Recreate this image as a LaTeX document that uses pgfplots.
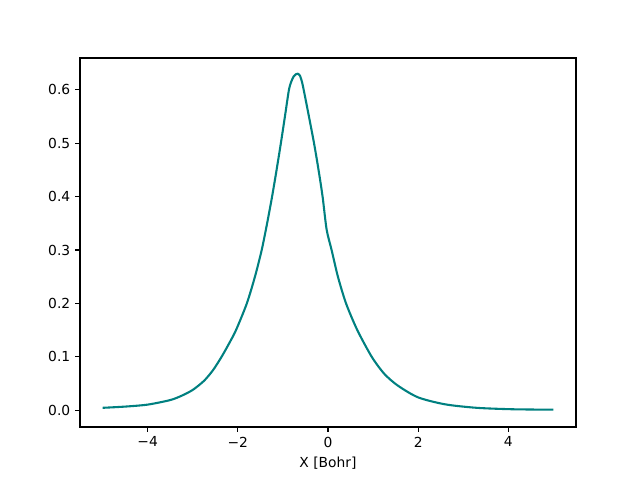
\documentclass[border=0pt]{standalone}
\usepackage{fontspec}
\setmainfont{DejaVu Sans}
\usepackage{pgfplots}
\pgfplotsset{compat=1.18}

\definecolor{mpteal}{RGB}{0,128,128}

\begin{document}
\begin{tikzpicture}
\useasboundingbox (-0.8in,-0.53in) rectangle (5.6in,4.27in);
\begin{axis}[
    at={(0,0)}, anchor=south west,
    scale only axis,
    width=4.96in, height=3.69in,
    xmin=-5.5, xmax=5.5,
    ymin=-0.0314, ymax=0.6594,
    xtick={-4,-2,0,2,4},
    xticklabels={−4,−2,0,2,4},
    ytick={0,0.1,0.2,0.3,0.4,0.5,0.6},
    yticklabels={0.0,0.1,0.2,0.3,0.4,0.5,0.6},
    tick align=outside,
    tick pos=left,
    major tick length=3.5bp,
    every tick/.style={black, line width=0.8bp},
    axis line style={line width=0.8bp},
    tick label style={font=\fontsize{10}{12}\selectfont},
    label style={font=\fontsize{10}{12}\selectfont},
    xlabel={X [Bohr]},
]
% density along x
\addplot[mpteal, line width=1.5bp, smooth, tension=0.45] coordinates {
(-5.00,0.0045) (-4.50,0.0068) (-4.00,0.0105) (-3.50,0.019) (-3.25,0.027)
(-3.00,0.038) (-2.75,0.055) (-2.55,0.075) (-2.36,0.100) (-2.20,0.124)
(-2.04,0.150) (-1.80,0.200) (-1.62,0.250) (-1.47,0.300) (-1.35,0.350)
(-1.24,0.400) (-1.14,0.450) (-1.045,0.500) (-0.955,0.550) (-0.87,0.598)
(-0.82,0.614) (-0.76,0.625) (-0.71,0.629) (-0.67,0.630) (-0.62,0.626)
(-0.575,0.614) (-0.53,0.596) (-0.43,0.553) (-0.31,0.500) (-0.21,0.450)
(-0.12,0.400) (-0.03,0.338) (0.08,0.300) (0.22,0.250) (0.40,0.200)
(0.65,0.150) (0.97,0.100) (1.25,0.068) (1.55,0.046) (2.00,0.024)
(2.60,0.011) (3.30,0.0045) (4.10,0.0018) (5.00,0.001)
};
\end{axis}
\end{tikzpicture}
\end{document}
